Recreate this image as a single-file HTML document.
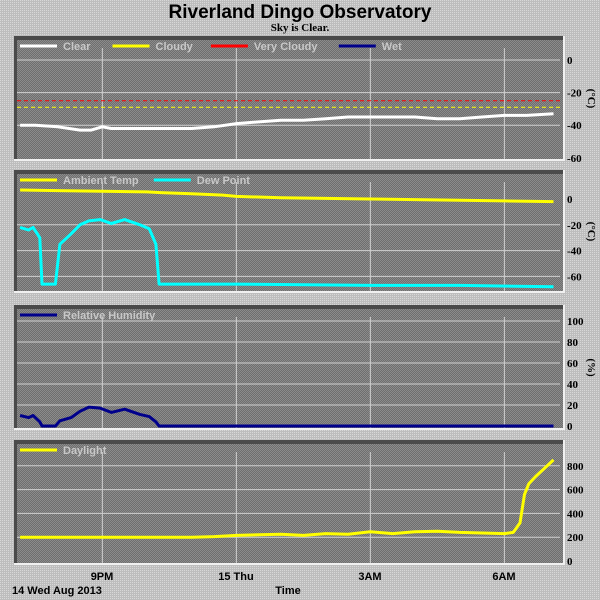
<!DOCTYPE html>
<html><head><meta charset="utf-8"><style>
body{margin:0;background:#c4c4c4;}
svg{display:block;font-family:"Liberation Sans",sans-serif;}
</style></head><body>
<svg id="c" width="600" height="600" viewBox="0 0 600 600">
<defs>
<pattern id="bgp" width="2" height="2" patternUnits="userSpaceOnUse"><rect width="2" height="2" fill="#bdbdbd"/><rect width="1" height="1" fill="#d8d8d8"/></pattern>
<pattern id="pp" width="2" height="2" patternUnits="userSpaceOnUse"><rect width="2" height="2" fill="#6e6e6e"/><rect width="1" height="1" fill="#8c8c8c"/><rect x="1" y="1" width="1" height="1" fill="#8c8c8c"/></pattern>
</defs>
<rect width="600" height="600" fill="url(#bgp)"/>
<text x="300" y="18" text-anchor="middle" font-size="19" font-weight="bold" fill="#000">Riverland Dingo Observatory</text>
<text x="300" y="31" text-anchor="middle" font-size="11" font-weight="bold" font-family="Liberation Serif,serif" fill="#000">Sky is Clear.</text>
<g id="panels"></g>
<text x="102" y="580" text-anchor="middle" font-size="11" font-weight="bold">9PM</text>
<text x="236" y="580" text-anchor="middle" font-size="11" font-weight="bold">15 Thu</text>
<text x="370" y="580" text-anchor="middle" font-size="11" font-weight="bold">3AM</text>
<text x="504" y="580" text-anchor="middle" font-size="11" font-weight="bold">6AM</text>
<text x="12" y="594" font-size="11" font-weight="bold">14 Wed Aug 2013</text>
<text x="288" y="594" text-anchor="middle" font-size="11" font-weight="bold">Time</text>
</svg>
<script>
// hours since 19:00
const skyT=[0.16,0.5,1,1.5,1.75,2,2.2,3,3.5,4,4.5,5,5.5,6,6.5,7,7.5,8,8.5,9,9.5,10,10.5,11,11.5,12.1];
const skyClear=[-40,-40,-41,-43,-43,-41,-42,-42,-42,-42,-41,-39,-38,-37,-37,-36,-35,-35,-35,-35,-36,-36,-35,-34,-34,-33];
const skyVeryCloudy=-25, skyCloudy=-29;
const tempT=[0.16,1,2,3,3.3,4,4.7,5,6,7,8,9,10,11,12.1];
const ambient=[7,6.5,6,5.5,5,4,3,2,1,0.5,0,-0.5,-1,-1.5,-2];
const dewT=[0.16,0.35,0.45,0.6,0.65,0.95,1.05,1.3,1.5,1.7,1.95,2.2,2.5,2.84,3.05,3.2,3.27,5,8,10,12.1];
const dew=[-22,-24,-22,-30,-66,-66,-35,-27,-20,-17,-16,-19,-16,-20,-23,-35,-66,-66,-67,-67,-68];
const rhT=[0.16,0.35,0.45,0.6,0.65,0.95,1.05,1.3,1.5,1.7,1.95,2.2,2.5,2.84,3.05,3.2,3.27,8,12.1];
const rh=[10,8,10,4,0,0,5,8,14,18,17,13,16,11,9,4,0,0,0];
const dayT=[0.16,2,4,4.5,5,5.5,6,6.5,7,7.5,8,8.5,9,9.5,10,10.5,11,11.2,11.35,11.45,11.55,11.7,11.9,12.1];
const daylight=[200,200,200,205,215,220,225,215,230,225,245,230,245,250,240,235,230,240,320,560,650,710,780,850];
const xTicks=[2,5,8,11];
const x=t=>13+t*44.67;
const NS='http://www.w3.org/2000/svg';
const root=document.getElementById('panels');
function mk(tag,attrs,parent){const e=document.createElementNS(NS,tag);for(const k in attrs)e.setAttribute(k,attrs[k]);(parent||root).appendChild(e);return e;}
function panel(name,top,bottom,y,ticks,gridVals,unit,legend){
  const g=mk('g',{});
  
  
  mk('rect',{x:14,y:top,width:551,height:bottom-top,fill:'url(#pp)'},g);
  mk('rect',{x:14,y:top,width:551,height:4,fill:'#4a4a4a'},g);
  mk('rect',{x:14,y:top,width:3,height:bottom-top,fill:'#4a4a4a'},g);
  mk('rect',{x:14,y:bottom-2,width:551,height:2,fill:'#f0f0f0'},g);
  mk('rect',{x:563,y:top,width:2,height:bottom-top,fill:'#f0f0f0'},g);
  gridVals.forEach(v=>{const l=mk('line',{x1:17,x2:560,y1:y(v),y2:y(v),stroke:'#d0d0d0','stroke-width':1},g);});
  xTicks.forEach(t=>{mk('line',{x1:x(t),x2:x(t),y1:top+12,y2:bottom-2,stroke:'#d0d0d0','stroke-width':1},g);});
  ticks.forEach(v=>{const tx=mk('text',{x:567,y:y(v)+4,'font-size':11,'font-weight':'bold','font-family':'Liberation Serif,serif'},g);tx.textContent=v;});
  if(unit){const u=mk('text',{x:0,y:0,'font-size':11,'font-weight':'bold','font-family':'Liberation Serif,serif',transform:`translate(588,${(top+bottom)/2}) rotate(90)`,'text-anchor':'middle'},g);u.textContent=unit;}
  let lx=20;
  legend.forEach(([lab,col])=>{
    const le=mk('g',{},g);
    
    
    mk('line',{x1:lx,x2:lx+37,y1:top+10,y2:top+10,stroke:col,'stroke-width':3},le);
    const t=mk('text',{x:lx+43,y:top+14,'font-size':11,'font-weight':'bold',fill:'#c8c8c8'},le);t.textContent=lab;
    lx+=43+lab.length*5.9+20;
  });
  return g;
}
function line(g,ts,vs,y,col,name,w){
  const d=ts.map((t,i)=>(i?'L':'M')+x(t).toFixed(1)+','+y(vs[i]).toFixed(1)).join('');
  const p=mk('path',{d,fill:'none',stroke:col,'stroke-width':w||3,'stroke-linejoin':'round'},g);
  
  
}
// panel 1
const y1=v=>60-v*1.63;
const g1=panel('sky',36,161,y1,[0,-20,-40,-60],[0,-20,-40],'(°C)',[['Clear','#fff'],['Cloudy','#ff0'],['Very Cloudy','#f00'],['Wet','#00008b']]);
[[skyVeryCloudy,'#f00','very-cloudy-threshold'],[skyCloudy,'#ff0','cloudy-threshold']].forEach(([v,c,n])=>{const l=mk('line',{x1:17,x2:560,y1:y1(v),y2:y1(v),stroke:c,'stroke-width':1,'stroke-dasharray':'4,3'},g1);});
line(g1,skyT,skyClear,y1,'#fff','clear-sky-line');
// panel 2
const y2=v=>199-v*1.29;
const g2=panel('temperature',170,293,y2,[0,-20,-40,-60],[-20,-40,-60],'(°C)',[['Ambient Temp','#ff0'],['Dew Point','#0ff']]);
line(g2,tempT,ambient,y2,'#ff0','ambient-temp-line');
line(g2,dewT,dew,y2,'#0ff','dew-point-line');
// panel 3
const y3=v=>426-v*1.05;
const g3=panel('humidity',305,430,y3,[100,80,60,40,20,0],[100,80,60,40,20],'(%)',[['Relative Humidity','#00008b']]);
line(g3,rhT,rh,y3,'#00008b','humidity-line');
// panel 4
const y4=v=>561-v*0.119;
const g4=panel('daylight',440,565,y4,[800,600,400,200,0],[800,600,400,200],'',[['Daylight','#ff0']]);
line(g4,dayT,daylight,y4,'#ff0','daylight-line');
</script>
</body></html>
